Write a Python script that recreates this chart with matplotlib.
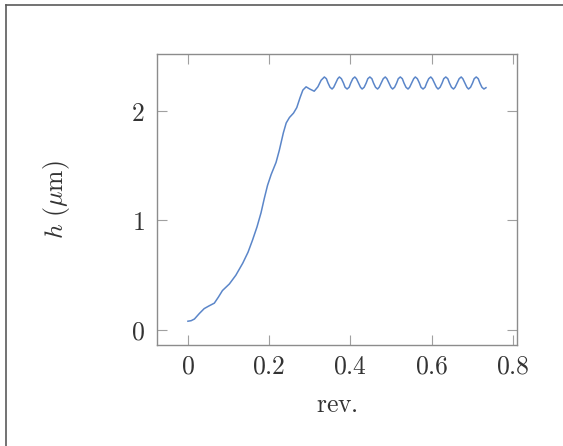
import matplotlib
matplotlib.use('Agg')
import matplotlib.pyplot as plt
from matplotlib.lines import Line2D
from matplotlib.ticker import FuncFormatter

plt.rcParams['mathtext.fontset'] = 'cm'
plt.rcParams['font.family'] = 'serif'
plt.rcParams['font.serif'] = ['DejaVu Serif']

# rise part of the curve
rev_rise = [0.000, 0.008, 0.016, 0.028, 0.040, 0.052, 0.065, 0.075, 0.085, 0.102,
            0.118, 0.135, 0.148, 0.159, 0.170, 0.180, 0.188, 0.196, 0.205, 0.217,
            0.225, 0.235, 0.242, 0.250, 0.260, 0.268, 0.276, 0.283, 0.291, 0.300,
            0.311, 0.320, 0.328]
h_rise = [0.08, 0.085, 0.10, 0.15, 0.195, 0.22, 0.245, 0.30, 0.36, 0.42,
          0.50, 0.61, 0.71, 0.82, 0.94, 1.07, 1.20, 1.32, 1.42, 1.53,
          1.64, 1.80, 1.89, 1.94, 1.98, 2.03, 2.12, 2.19, 2.22, 2.20,
          2.18, 2.22, 2.28]

# wavy plateau
rev_wave = [0.336, 0.341, 0.345, 0.350, 0.355, 0.359, 0.364, 0.369,
            0.373, 0.378, 0.383, 0.387, 0.392, 0.397, 0.401, 0.406,
            0.411, 0.415, 0.420, 0.425, 0.429, 0.434, 0.439, 0.443,
            0.448, 0.453, 0.457, 0.462, 0.467, 0.471, 0.476, 0.481,
            0.486, 0.490, 0.495, 0.500, 0.504, 0.509, 0.514, 0.518,
            0.523, 0.528, 0.532, 0.537, 0.542, 0.546, 0.551, 0.556,
            0.560, 0.565, 0.570, 0.574, 0.579, 0.584, 0.588, 0.593,
            0.598, 0.602, 0.607, 0.612, 0.616, 0.621, 0.626, 0.630,
            0.635, 0.640, 0.644, 0.649, 0.654, 0.658, 0.663, 0.668,
            0.673, 0.677, 0.682, 0.687, 0.691, 0.696, 0.701, 0.705,
            0.710, 0.715, 0.719, 0.724, 0.729, 0.734]
h_wave = [2.31, 2.294, 2.255, 2.216, 2.20, 2.216, 2.255, 2.294,
          2.31, 2.294, 2.255, 2.216, 2.20, 2.216, 2.255, 2.294,
          2.31, 2.294, 2.255, 2.216, 2.20, 2.216, 2.255, 2.294,
          2.31, 2.294, 2.255, 2.216, 2.20, 2.216, 2.255, 2.294,
          2.31, 2.294, 2.255, 2.216, 2.20, 2.216, 2.255, 2.294,
          2.31, 2.294, 2.255, 2.216, 2.20, 2.216, 2.255, 2.294,
          2.31, 2.294, 2.255, 2.216, 2.20, 2.216, 2.255, 2.294,
          2.31, 2.294, 2.255, 2.216, 2.20, 2.216, 2.255, 2.294,
          2.31, 2.294, 2.255, 2.216, 2.20, 2.216, 2.255, 2.294,
          2.31, 2.294, 2.255, 2.216, 2.20, 2.216, 2.255, 2.294,
          2.31, 2.294, 2.255, 2.216, 2.20, 2.212]

xticks = [0, 0.2, 0.4, 0.6, 0.8]
yticks = [0, 1, 2]

rev = rev_rise + rev_wave
h = h_rise + h_wave

fig = plt.figure(figsize=(5.63, 4.46), dpi=100)
ax = fig.add_axes([0.279, 0.2265, 0.639, 0.6525])

ax.plot(rev, h, color='#5b86c9', lw=1.1, solid_joinstyle='round')

ax.set_xlim(-0.076, 0.81)
ax.set_ylim(-0.137, 2.52)
ax.set_xticks(xticks)
ax.set_yticks(yticks)
ax.xaxis.set_major_formatter(FuncFormatter(lambda v, p: r'$%g$' % v))
ax.yaxis.set_major_formatter(FuncFormatter(lambda v, p: r'$%g$' % v))

for s in ax.spines.values():
    s.set_color('#8c8c8c')
    s.set_linewidth(1.0)
ax.tick_params(direction='in', top=True, right=True, length=7, width=0.8,
               color='#a0a0a0', labelcolor='#333333', labelsize=18.5)
ax.tick_params(axis='x', pad=6)
ax.tick_params(axis='y', pad=9)

ax.set_xlabel(r'$\mathrm{rev.}$', fontsize=18.5, color='#333333', labelpad=10)
ax.set_ylabel(r'$h\ (\mu\mathrm{m})$', fontsize=18.5, color='#333333', labelpad=42)

# frame of the cropped page
fig.add_artist(Line2D([5.5 / 563, 5.5 / 563], [0, 1 - 4.8 / 446], color='#5a5a5a', lw=1.2))
fig.add_artist(Line2D([5.5 / 563, 1], [1 - 4.8 / 446, 1 - 4.8 / 446], color='#5a5a5a', lw=1.2))

fig.savefig('out.png', dpi=100)
